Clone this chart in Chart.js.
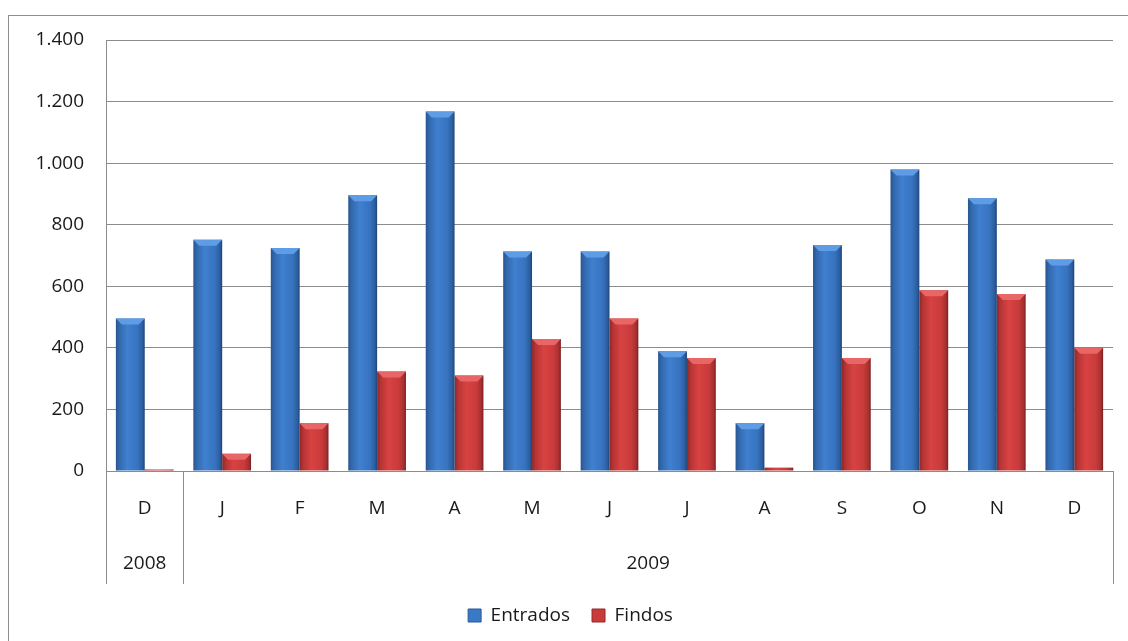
<!DOCTYPE html>
<html>
<head>
<meta charset="utf-8">
<script src="https://cdn.jsdelivr.net/npm/chart.js@4"></script>
<style>
  html, body { margin: 0; padding: 0; background: #fff; overflow: hidden; }
  #frame { position: absolute; left: 8px; top: 15px; width: 1300px; height: 800px; border: 1px solid #8e8e8e; }
  #chart { position: absolute; left: 0; top: 0; }
</style>
</head>
<body>
<div id="frame"></div>
<canvas id="chart" width="1128" height="641"></canvas>
<script>
//chart data
const months = ['D', 'J', 'F', 'M', 'A', 'M', 'J', 'J', 'A', 'S', 'O', 'N', 'D'];
const entrados = [495, 751, 724, 896, 1168, 713, 713, 389, 155, 734, 979, 886, 687];
const findos = [5, 56, 155, 323, 310, 429, 495, 367, 11, 367, 587, 575, 400];

//year row under the months
const yearLabels = ['2008', '2009'];
const yearStart = [0, 1];
const yearEnd = [0, 12];

const fontName = '"Open Sans", "Noto Sans", sans-serif';
const fontSize = 19;
const catPct = 0.745;

//thousands with a dot, like 1.400
function dotThousands(v) {
    return String(v).replace(/\B(?=(\d{3})+(?!\d))/g, '.');
}

//horizontal shading on each bar
function barFill(stops, solid) {
    return function(ctx) {
        const chart = ctx.chart;
        const xs = chart.scales.x;
        if (ctx.type !== 'data' || !xs || !xs.width) return solid;
        const center = xs.getPixelForValue(ctx.dataIndex);
        const pairW = xs.width / months.length * catPct;
        const barW = pairW / 2;
        const left = center - pairW / 2 + ctx.datasetIndex * barW;
        const g = chart.ctx.createLinearGradient(left, 0, left + barW, 0);
        stops.forEach(function(s) { g.addColorStop(s[0], s[1]); });
        return g;
    };
}

const blueStops = [[0, '#27558f'], [0.12, '#3368ad'], [0.4, '#3f80cf'], [0.75, '#3773bf'], [0.92, '#2c5e9f'], [1, '#1f4374']];
const redStops = [[0, '#8d2727'], [0.12, '#b53434'], [0.4, '#d84242'], [0.75, '#c93b3b'], [0.92, '#a83030'], [1, '#7a2020']];
const capColors = ['#5e9de6', '#e96666'];
const legendFills = ['#3a78c8', '#c93a3a'];
const legendEdges = ['#2a5a98', '#952a2a'];

//light bevel at the top of each bar
const barCaps = {
    id: 'barCaps',
    afterDatasetsDraw(chart) {
        const c = chart.ctx;
        c.save();
        chart.data.datasets.forEach(function(ds, di) {
            const meta = chart.getDatasetMeta(di);
            meta.data.forEach(function(bar) {
                const h = bar.base - bar.y;
                if (h < 4) return;
                const d = Math.min(6, h / 2);
                const l = bar.x - bar.width / 2;
                const r = bar.x + bar.width / 2;
                c.fillStyle = capColors[di];
                c.beginPath();
                c.moveTo(l, bar.y);
                c.lineTo(r, bar.y);
                c.lineTo(r - d, bar.y + d);
                c.lineTo(l + d, bar.y + d);
                c.closePath();
                c.fill();
            });
        });
        c.restore();
    }
};

//draws the year row and its separators
const yearRow = {
    id: 'yearRow',
    afterDraw(chart) {
        const xs = chart.scales.x;
        const area = chart.chartArea;
        const c = chart.ctx;
        const half = xs.width / months.length / 2;
        c.save();
        c.strokeStyle = '#8c8c8c';
        c.lineWidth = 1;
        c.fillStyle = '#1a1a1a';
        c.font = fontSize + 'px ' + fontName;
        c.textAlign = 'center';
        c.textBaseline = 'middle';
        for (let i = 0; i < yearLabels.length; i++) {
            const left = xs.getPixelForValue(yearStart[i]) - half;
            const right = xs.getPixelForValue(yearEnd[i]) + half;
            [left, right].forEach(function(x) {
                const px = Math.round(x) + 0.5;
                c.beginPath();
                c.moveTo(px, area.bottom);
                c.lineTo(px, xs.bottom);
                c.stroke();
            });
            c.fillText(yearLabels[i], (left + right) / 2, xs.bottom - 20);
        }
        c.restore();
    }
};

const config = {
    type: 'bar',
    data: {
        labels: months,
        datasets: [{
            label: 'Entrados',
            data: entrados,
            backgroundColor: barFill(blueStops, '#3a76c4'),
            borderWidth: 0
        },
        {
            label: 'Findos',
            data: findos,
            backgroundColor: barFill(redStops, '#c73a3a'),
            borderWidth: 0
        }]
    },
    options: {
        responsive: false,
        animation: false,
        categoryPercentage: catPct,
        barPercentage: 1.0,
        layout: {
            padding: { left: 28, right: 15, top: 40, bottom: 6 }
        },
        scales: {
            x: {
                grid: { display: false },
                border: { display: true, color: '#8c8c8c', width: 1 },
                ticks: {
                    color: '#1a1a1a',
                    font: { family: fontName, size: fontSize },
                    padding: 18,
                    maxRotation: 0,
                    autoSkip: false
                },
                afterFit: function(scale) { scale.height = 113; }
            },
            y: {
                min: 0,
                max: 1400,
                grid: { color: '#8c8c8c', lineWidth: 1, drawTicks: false },
                border: { display: true, color: '#8c8c8c', width: 1 },
                ticks: {
                    stepSize: 200,
                    color: '#1a1a1a',
                    padding: 22,
                    font: { family: fontName, size: fontSize },
                    callback: function(v) { return dotThousands(v); }
                },
                afterFit: function(scale) { scale.width = 78; }
            }
        },
        plugins: {
            tooltip: { enabled: false },
            legend: {
                position: 'bottom',
                labels: {
                    boxWidth: 13,
                    boxHeight: 13,
                    padding: 22,
                    color: '#1a1a1a',
                    font: { family: fontName, size: fontSize },
                    generateLabels: function(chart) {
                        const items = Chart.defaults.plugins.legend.labels.generateLabels(chart);
                        items.forEach(function(it, i) {
                            it.fillStyle = legendFills[i];
                            it.strokeStyle = legendEdges[i];
                            it.lineWidth = 1;
                        });
                        return items;
                    }
                }
            }
        }
    },
    plugins: [barCaps, yearRow]
};

window.onload = function() {
    const ctx = document.getElementById('chart').getContext('2d');
    window.mainChart = new Chart(ctx, config);
};
</script>
</body>
</html>
